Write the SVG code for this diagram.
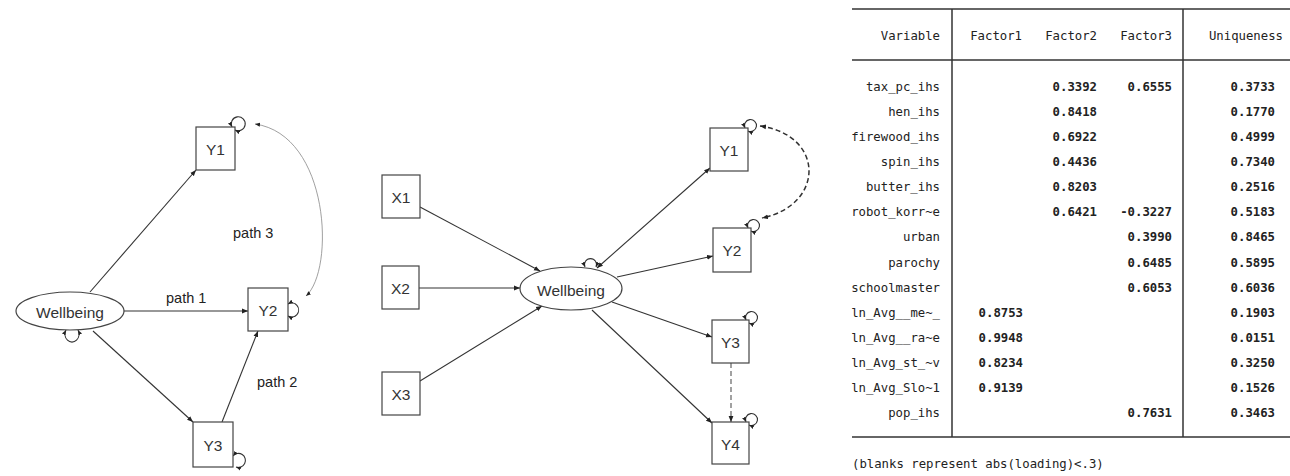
<svg xmlns="http://www.w3.org/2000/svg" width="1290" height="476" viewBox="0 0 1290 476">
<style>
.bg{fill:#fff}
.box{fill:#fff;stroke:#444;stroke-width:1.2}
.ell{fill:#fff;stroke:#444;stroke-width:1.2}
.lbl{font-family:"Liberation Sans",Arial,sans-serif;font-size:15.5px;fill:#333;text-anchor:middle;dominant-baseline:central}
.plbl{font-family:"Liberation Sans",Arial,sans-serif;font-size:14.5px;fill:#222}
.ln{fill:none;stroke:#333;stroke-width:1.1}
.loop{fill:none;stroke:#333;stroke-width:1.1}
.cov{fill:none;stroke:#888;stroke-width:0.8}
.dash{fill:none;stroke:#333;stroke-width:1.5;stroke-dasharray:5 3}
.dash2{fill:none;stroke:#555;stroke-width:1.1;stroke-dasharray:5 3}
.tl{stroke:#333;stroke-width:1.5}
.mono{font-family:"DejaVu Sans Mono","Liberation Mono",monospace;font-size:12.3px;fill:#222}
.num{font-weight:bold}
.r{text-anchor:end}
</style>
<defs>
<marker id="ah" viewBox="0 0 10 10" refX="10" refY="5" markerWidth="6" markerHeight="6" markerUnits="userSpaceOnUse" orient="auto-start-reverse"><path d="M0,1 L10,5 L0,9 z" fill="#222"/></marker>
<marker id="ahs" viewBox="0 0 10 10" refX="10" refY="5" markerWidth="5" markerHeight="5" markerUnits="userSpaceOnUse" orient="auto-start-reverse"><path d="M0,1 L10,5 L0,9 z" fill="#222"/></marker>
</defs>
<rect class="bg" x="0" y="0" width="1290" height="476"/>

<!-- Left diagram connectors -->
<g id="left-connectors">
<path class="ln" d="M90,292 L196,170" marker-end="url(#ah)"/>
<path class="ln" d="M124,311 L248,311" marker-end="url(#ah)"/>
<path class="ln" d="M93,331 L193,422" marker-end="url(#ah)"/>
<path class="ln" d="M222,422 L258,331" marker-end="url(#ah)"/>
<path class="cov" d="M255,124 C330,135 335,270 306,296" marker-start="url(#ahs)" marker-end="url(#ahs)"/>
<path class="loop" d="M232,127 A7 7 0 1 1 235,130" marker-start="url(#ahs)" marker-end="url(#ahs)"/>
<path class="loop" d="M288,304 A7 7 0 1 1 288,316" marker-start="url(#ahs)" marker-end="url(#ahs)"/>
<path class="loop" d="M66,330 A7 8 0 1 0 78,330" marker-start="url(#ahs)" marker-end="url(#ahs)"/>
<path class="loop" d="M233,456 A7 7 0 1 1 236,467" marker-start="url(#ahs)" marker-end="url(#ahs)"/>
</g>
<text class="plbl" x="233" y="238">path 3</text>
<text class="plbl" x="166" y="303">path 1</text>
<text class="plbl" x="257" y="387">path 2</text>

<g id="L-Wellbeing"><ellipse class="ell" cx="70" cy="311" rx="54" ry="19"/><text class="lbl" x="70" y="312">Wellbeing</text></g>
<g id="L-Y1"><rect class="box" x="196" y="127" width="39" height="43"/><text class="lbl" x="215.5" y="149">Y1</text></g>
<g id="L-Y2"><rect class="box" x="248" y="288" width="40" height="43"/><text class="lbl" x="268" y="310">Y2</text></g>
<g id="L-Y3"><rect class="box" x="193" y="422" width="40" height="45"/><text class="lbl" x="213" y="445">Y3</text></g>

<!-- Middle diagram connectors -->
<g id="mid-connectors">
<path class="ln" d="M420,207 L540,271" marker-end="url(#ah)"/>
<path class="ln" d="M419,288 L520,288" marker-end="url(#ah)"/>
<path class="ln" d="M420,381 L542,306" marker-end="url(#ah)"/>
<path class="ln" d="M597,268 L710,168" marker-start="url(#ah)" marker-end="url(#ah)"/>
<path class="ln" d="M617,277 L713,256" marker-end="url(#ah)"/>
<path class="ln" d="M612,302 L712,337" marker-end="url(#ah)"/>
<path class="ln" d="M592,310 L712,423" marker-end="url(#ah)"/>
<path class="dash2" d="M731,363 L731,422" marker-end="url(#ah)"/>
<path class="dash" d="M760,126 C825,135 825,205 762,218" marker-start="url(#ah)" marker-end="url(#ah)"/>
<path class="loop" d="M745,128 A6 6 0 1 1 748,131" marker-start="url(#ahs)" marker-end="url(#ahs)"/>
<path class="loop" d="M748,228 A6 6 0 1 1 751,231" marker-start="url(#ahs)" marker-end="url(#ahs)"/>
<path class="loop" d="M746,320 A6 6 0 1 1 749,323" marker-start="url(#ahs)" marker-end="url(#ahs)"/>
<path class="loop" d="M746,422 A6 6 0 1 1 749,425" marker-start="url(#ahs)" marker-end="url(#ahs)"/>
<path class="loop" d="M585,267 A6 6 0 1 1 596,267" marker-start="url(#ahs)" marker-end="url(#ahs)"/>
</g>

<g id="M-X1"><rect class="box" x="382" y="175" width="38" height="43"/><text class="lbl" x="401" y="197">X1</text></g>
<g id="M-X2"><rect class="box" x="382" y="266" width="37" height="43"/><text class="lbl" x="400.5" y="288">X2</text></g>
<g id="M-X3"><rect class="box" x="382" y="372" width="38" height="43"/><text class="lbl" x="401" y="394">X3</text></g>
<g id="M-Wellbeing"><ellipse class="ell" cx="571" cy="288.5" rx="51" ry="21.5"/><text class="lbl" x="571" y="290">Wellbeing</text></g>
<g id="M-Y1"><rect class="box" x="710" y="128" width="38" height="43"/><text class="lbl" x="729" y="150">Y1</text></g>
<g id="M-Y2"><rect class="box" x="713" y="228" width="38" height="44"/><text class="lbl" x="732" y="250">Y2</text></g>
<g id="M-Y3"><rect class="box" x="712" y="320" width="37" height="43"/><text class="lbl" x="730.5" y="342">Y3</text></g>
<g id="M-Y4"><rect class="box" x="712" y="422" width="37" height="42"/><text class="lbl" x="730.5" y="444">Y4</text></g>

<!-- Table -->
<g id="table">
<line class="tl" x1="852" y1="9" x2="1290" y2="9"/>
<line class="tl" x1="852" y1="60" x2="1290" y2="60"/>
<line class="tl" x1="852" y1="437" x2="1290" y2="437"/>
<line class="tl" x1="952" y1="9" x2="952" y2="437"/>
<line class="tl" x1="1183" y1="9" x2="1183" y2="437"/>
<g class="mono">
<text class="r" x="940" y="39.5">Variable</text>
<text class="r" x="1022" y="39.5">Factor1</text>
<text class="r" x="1097" y="39.5">Factor2</text>
<text class="r" x="1172" y="39.5">Factor3</text>
<text class="r" x="1283" y="39.5">Uniqueness</text>

<text class="r" x="940" y="90.5">tax_pc_ihs</text>
<text class="r" x="940" y="115.6">hen_ihs</text>
<text class="r" x="940" y="140.8">firewood_ihs</text>
<text class="r" x="940" y="165.9">spin_ihs</text>
<text class="r" x="940" y="191.1">butter_ihs</text>
<text class="r" x="940" y="216.2">robot_korr~e</text>
<text class="r" x="940" y="241.4">urban</text>
<text class="r" x="940" y="266.5">parochy</text>
<text class="r" x="940" y="291.7">schoolmaster</text>
<text class="r" x="940" y="316.8">ln_Avg__me~_</text>
<text class="r" x="940" y="342">ln_Avg__ra~e</text>
<text class="r" x="940" y="367.1">ln_Avg_st_~v</text>
<text class="r" x="940" y="392.3">ln_Avg_Slo~1</text>
<text class="r" x="940" y="417.4">pop_ihs</text>
</g>
<g class="mono num">
<text class="r" x="1097" y="90.5">0.3392</text><text class="r" x="1172" y="90.5">0.6555</text><text class="r" x="1275" y="90.5">0.3733</text>
<text class="r" x="1097" y="115.6">0.8418</text><text class="r" x="1275" y="115.6">0.1770</text>
<text class="r" x="1097" y="140.8">0.6922</text><text class="r" x="1275" y="140.8">0.4999</text>
<text class="r" x="1097" y="165.9">0.4436</text><text class="r" x="1275" y="165.9">0.7340</text>
<text class="r" x="1097" y="191.1">0.8203</text><text class="r" x="1275" y="191.1">0.2516</text>
<text class="r" x="1097" y="216.2">0.6421</text><text class="r" x="1172" y="216.2">-0.3227</text><text class="r" x="1275" y="216.2">0.5183</text>
<text class="r" x="1172" y="241.4">0.3990</text><text class="r" x="1275" y="241.4">0.8465</text>
<text class="r" x="1172" y="266.5">0.6485</text><text class="r" x="1275" y="266.5">0.5895</text>
<text class="r" x="1172" y="291.7">0.6053</text><text class="r" x="1275" y="291.7">0.6036</text>
<text class="r" x="1023" y="316.8">0.8753</text><text class="r" x="1275" y="316.8">0.1903</text>
<text class="r" x="1023" y="342">0.9948</text><text class="r" x="1275" y="342">0.0151</text>
<text class="r" x="1023" y="367.1">0.8234</text><text class="r" x="1275" y="367.1">0.3250</text>
<text class="r" x="1023" y="392.3">0.9139</text><text class="r" x="1275" y="392.3">0.1526</text>
<text class="r" x="1172" y="417.4">0.7631</text><text class="r" x="1275" y="417.4">0.3463</text>
</g>
<text class="mono" x="852" y="467.5">(blanks represent abs(loading)&lt;.3)</text>
</g>
</svg>
